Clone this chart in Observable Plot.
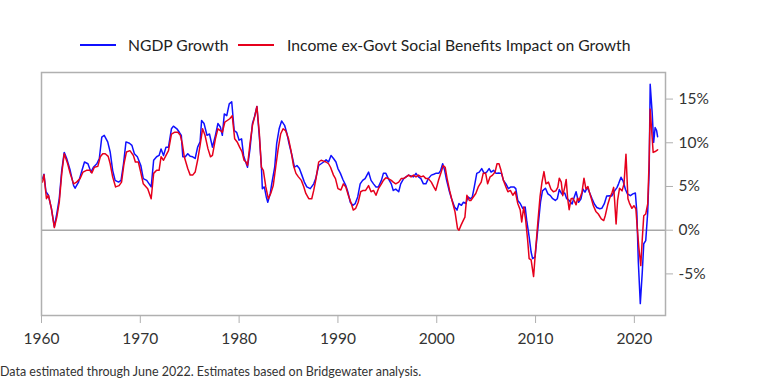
<!DOCTYPE html>
<html>
<head>
<meta charset="utf-8">
<script src="https://cdn.jsdelivr.net/npm/d3@7"></script>
<script src="https://cdn.jsdelivr.net/npm/@observablehq/plot@0.6"></script>
<style>
  html, body { margin: 0; padding: 0; background: #fff; }
  body { width: 771px; height: 381px; overflow: hidden; font-family: Lato, sans-serif; }
  #legend { position: relative; height: 62px; color: #222; font-size: 15.7px; }
  #legend .sw { position: absolute; top: 44px; width: 36px; height: 2px; }
  #legend .lb { position: absolute; top: 35px; line-height: 20px; white-space: nowrap; }
  #caption { height: 19px; line-height: 19px; font-size: 12.5px; color: #333; white-space: nowrap; }
</style>
</head>
<body>
<div id="legend">
  <div class="sw" style="left:80px;background:#1010ff"></div>
  <div class="lb" style="left:128px">NGDP Growth</div>
  <div class="sw" style="left:238px;background:#e6001c"></div>
  <div class="lb" style="left:287px">Income ex-Govt Social Benefits Impact on Growth</div>
</div>
<div id="chart"></div>
<div id="caption">Data estimated through June 2022. Estimates based on Bridgewater analysis.</div>
<script>
const seriesNames = ["NGDP Growth", "Income ex-Govt Social Benefits Impact on Growth"];
const xTicks = [1960, 1970, 1980, 1990, 2000, 2010, 2020];
const yTicks = [-5, 0, 5, 10, 15];

const ngdpYears = [1960.1,1960.25,1960.45,1960.7,1961.0,1961.3,1961.55,1961.8,1962.05,1962.3,1962.55,1962.9,1963.25,1963.4,1963.75,1964.1,1964.35,1964.7,1965.0,1965.25,1965.6,1965.85,1966.1,1966.35,1966.7,1966.95,1967.2,1967.45,1967.8,1968.05,1968.3,1968.55,1968.9,1969.15,1969.4,1969.7,1970.05,1970.3,1970.65,1971.1,1971.35,1971.65,1971.9,1972.1,1972.35,1972.6,1972.85,1973.15,1973.35,1973.7,1973.95,1974.15,1974.3,1974.55,1974.8,1975.05,1975.3,1975.55,1975.8,1976.05,1976.2,1976.45,1976.75,1977.0,1977.3,1977.6,1977.85,1978.1,1978.3,1978.5,1978.75,1979.0,1979.25,1979.5,1979.75,1980.0,1980.25,1980.45,1980.6,1980.85,1981.1,1981.35,1981.55,1981.8,1982.05,1982.25,1982.35,1982.55,1982.75,1982.9,1983.15,1983.3,1983.6,1983.8,1984.05,1984.3,1984.6,1984.85,1985.05,1985.35,1985.6,1985.85,1986.1,1986.35,1986.6,1986.85,1987.2,1987.55,1987.75,1988.05,1988.3,1988.55,1988.8,1989.05,1989.3,1989.55,1989.8,1990.0,1990.25,1990.5,1990.8,1991.0,1991.25,1991.5,1991.75,1992.0,1992.25,1992.5,1992.75,1993.1,1993.35,1993.6,1993.85,1994.1,1994.4,1994.6,1994.85,1995.1,1995.4,1995.6,1995.85,1996.15,1996.35,1996.65,1996.9,1997.15,1997.4,1997.65,1997.9,1998.15,1998.4,1998.65,1998.9,1999.15,1999.45,1999.7,1999.9,2000.2,2000.4,2000.6,2000.8,2001.0,2001.25,2001.5,2001.8,2002.05,2002.25,2002.5,2002.7,2002.95,2003.15,2003.4,2003.6,2003.8,2004.05,2004.3,2004.55,2004.8,2005.05,2005.3,2005.5,2005.75,2006.0,2006.25,2006.55,2006.75,2007.0,2007.25,2007.5,2007.8,2008.0,2008.2,2008.45,2008.7,2008.95,2009.1,2009.35,2009.55,2009.7,2009.95,2010.25,2010.5,2010.7,2011.0,2011.25,2011.5,2011.7,2012.0,2012.2,2012.4,2012.65,2012.95,2013.15,2013.4,2013.7,2013.9,2014.1,2014.35,2014.6,2014.8,2015.0,2015.25,2015.45,2015.7,2015.95,2016.2,2016.5,2016.7,2016.95,2017.2,2017.5,2017.7,2018.0,2018.25,2018.4,2018.65,2018.85,2019.1,2019.3,2019.6,2019.85,2020.1,2020.25,2020.4,2020.6,2020.8,2020.95,2021.15,2021.35,2021.5,2021.6,2021.8,2021.95,2022.1,2022.25,2022.35];
const ngdpValues = [5.9,6.4,4.4,4.0,2.5,0.4,1.9,3.65,6.85,8.9,8.2,6.85,5.1,4.8,5.5,6.85,7.8,7.6,6.65,7.2,7.6,8.2,10.65,10.85,10.1,8.95,6.85,5.7,5.5,5.7,7.6,10.1,9.95,9.7,8.75,8.4,7.4,5.9,5.7,4.95,8.0,8.4,8.55,9.3,8.55,9.5,9.5,11.6,11.9,11.6,11.2,10.85,8.4,8.4,8.75,8.45,8.4,8.2,9.5,10.1,12.55,12.2,10.85,11.0,9.5,10.85,12.2,11.8,10.85,13.3,13.1,14.45,14.7,11.4,11.2,10.3,10.45,8.55,8.0,7.2,9.3,12.2,12.95,14.15,10.65,7.4,4.75,4.95,3.8,3.2,4.2,5.3,7.2,9.9,11.6,12.5,12.0,11.0,9.9,8.55,7.2,7.4,7.05,6.3,5.5,4.95,4.75,5.3,5.9,7.4,7.6,7.8,8.05,7.8,8.55,8.2,7.8,7.05,6.5,5.8,5.1,4.4,3.2,2.85,3.05,3.8,5.3,5.7,5.9,6.65,5.7,5.3,4.95,4.95,5.7,6.5,6.5,5.9,5.3,4.55,4.7,4.4,5.3,5.9,6.1,6.3,6.2,6.1,6.5,6.1,5.9,5.3,5.3,5.9,6.3,6.4,6.5,6.5,6.85,7.6,6.85,5.7,4.55,3.6,2.65,2.3,3.05,2.85,3.2,3.05,3.8,3.6,3.8,4.95,6.5,6.65,7.05,6.5,6.65,7.05,6.65,6.85,6.5,6.55,6.5,5.7,5.3,4.75,4.95,4.95,4.75,3.4,3.05,2.5,2.65,1.15,-0.75,-2.5,-3.25,-3.05,0.4,3.2,4.5,4.8,4.15,3.95,3.65,3.4,3.6,4.65,4.15,4.25,3.6,3.4,3.0,3.75,4.4,3.2,3.6,4.7,4.35,4.9,4.35,3.65,3.0,2.6,2.45,2.5,3.0,3.9,3.95,3.9,4.5,4.9,5.3,6.05,5.65,4.65,4.15,3.95,4.15,4.25,2.05,-3.65,-8.4,-4.8,-1.55,-1.2,2.05,7.0,16.7,13.45,10.05,11.75,11.4,10.7];

const incomeYears = [1960.1,1960.25,1960.5,1960.7,1961.0,1961.3,1961.55,1961.8,1962.05,1962.3,1962.65,1962.9,1963.25,1963.55,1963.9,1964.2,1964.55,1964.9,1965.1,1965.35,1965.7,1965.95,1966.2,1966.45,1966.75,1966.95,1967.2,1967.5,1967.85,1968.1,1968.35,1968.6,1968.95,1969.3,1969.5,1969.8,1970.05,1970.3,1970.75,1971.1,1971.35,1971.65,1971.9,1972.1,1972.35,1972.6,1972.85,1973.15,1973.45,1973.8,1974.05,1974.25,1974.45,1974.8,1975.05,1975.3,1975.55,1975.8,1976.05,1976.3,1976.55,1976.85,1977.1,1977.3,1977.6,1977.85,1978.1,1978.3,1978.55,1978.8,1979.05,1979.3,1979.55,1979.8,1980.05,1980.3,1980.5,1980.7,1980.85,1981.1,1981.35,1981.6,1981.8,1982.05,1982.25,1982.45,1982.7,1982.95,1983.2,1983.45,1983.7,1983.95,1984.2,1984.45,1984.7,1985.0,1985.25,1985.5,1985.75,1986.0,1986.3,1986.55,1986.75,1987.05,1987.35,1987.55,1987.75,1988.05,1988.3,1988.55,1988.8,1989.05,1989.25,1989.55,1989.75,1990.0,1990.3,1990.55,1990.8,1991.05,1991.35,1991.55,1991.8,1992.05,1992.3,1992.55,1992.8,1993.1,1993.35,1993.6,1993.85,1994.1,1994.4,1994.6,1994.85,1995.1,1995.4,1995.6,1995.85,1996.15,1996.4,1996.65,1996.9,1997.15,1997.4,1997.65,1997.9,1998.15,1998.4,1998.65,1998.9,1999.15,1999.45,1999.7,1999.9,2000.2,2000.45,2000.65,2000.85,2001.05,2001.3,2001.55,2001.85,2002.1,2002.25,2002.45,2002.7,2002.85,2003.05,2003.3,2003.45,2003.7,2003.95,2004.2,2004.5,2004.7,2004.95,2005.15,2005.4,2005.65,2005.9,2006.1,2006.3,2006.5,2006.75,2007.0,2007.2,2007.45,2007.7,2007.95,2008.2,2008.45,2008.6,2008.8,2009.0,2009.2,2009.35,2009.55,2009.8,2010.0,2010.25,2010.45,2010.65,2010.85,2011.05,2011.3,2011.55,2011.8,2012.05,2012.25,2012.4,2012.6,2012.75,2012.95,2013.1,2013.25,2013.4,2013.6,2013.75,2013.95,2014.1,2014.25,2014.4,2014.7,2014.9,2015.1,2015.3,2015.45,2015.65,2015.85,2016.1,2016.35,2016.65,2016.9,2017.05,2017.3,2017.5,2017.75,2017.9,2018.0,2018.15,2018.3,2018.5,2018.75,2018.95,2019.15,2019.35,2019.5,2019.75,2019.95,2020.15,2020.3,2020.45,2020.65,2020.8,2020.95,2021.15,2021.35,2021.5,2021.6,2021.8,2021.9,2022.1,2022.35];
const incomeValues = [5.5,6.35,3.6,4.0,2.5,0.3,1.5,3.2,6.5,8.75,7.6,6.5,5.3,5.5,5.9,6.65,6.85,6.85,6.55,7.2,7.3,8.4,8.75,8.75,8.45,7.6,6.1,4.95,5.1,5.5,7.6,8.95,9.1,8.55,7.8,7.8,6.6,5.3,4.75,3.6,6.5,6.85,6.85,8.4,8.0,8.55,9.1,11.0,11.2,11.2,10.85,9.9,8.4,7.05,6.3,6.3,6.65,8.0,9.7,11.6,10.85,9.3,8.4,8.55,10.45,11.6,11.4,11.2,12.35,12.55,12.75,13.1,10.45,10.1,9.5,8.95,8.0,7.8,7.4,9.9,12.0,13.1,14.15,11.0,7.2,6.85,4.95,3.6,4.2,5.1,7.2,9.3,11.0,11.6,11.4,10.45,9.1,7.4,6.5,6.1,5.7,4.95,4.2,3.6,3.6,4.55,5.7,7.8,8.0,7.9,7.8,7.6,7.2,6.3,5.9,4.75,4.6,5.3,4.95,4.0,3.05,2.3,2.5,3.2,4.4,4.55,4.55,5.1,4.4,4.55,4.0,4.75,5.3,5.7,6.0,5.9,5.7,5.5,5.3,5.5,5.9,5.9,6.1,6.3,6.1,6.3,6.1,6.3,6.1,6.2,5.9,5.9,5.5,4.95,4.55,5.8,6.65,7.4,7.2,5.9,4.55,3.4,2.1,0.2,0.0,0.55,1.15,1.5,4.0,3.4,3.4,3.8,4.2,4.95,5.5,6.5,6.5,5.3,6.1,6.3,6.65,7.6,7.6,6.85,5.7,4.95,4.4,4.55,4.0,4.4,3.05,2.3,0.95,2.65,1.15,-1.15,-3.25,-3.4,-5.3,-2.3,1.15,3.8,5.5,6.7,5.3,5.5,4.7,4.4,4.5,4.9,5.95,5.5,3.95,4.9,5.8,3.6,2.35,3.6,3.65,3.3,2.9,3.65,3.4,4.35,5.95,4.7,5.0,4.35,3.6,2.8,2.15,1.85,1.3,1.1,1.65,2.9,3.65,4.35,4.9,3.4,0.7,3.4,4.8,4.5,5.3,8.7,3.6,3.1,2.5,2.8,2.45,0.15,-1.95,-4.05,-1.0,1.65,1.85,3.0,8.15,13.85,10.6,8.9,9.0,9.2];

const ngdp = ngdpYears.map((year, i) => ({year, value: ngdpValues[i], series: seriesNames[0]}));
const income = incomeYears.map((year, i) => ({year, value: incomeValues[i], series: seriesNames[1]}));

const chart = Plot.plot({
  width: 771,
  height: 300,
  marginTop: 10,
  marginBottom: 47,
  marginLeft: 41,
  marginRight: 106,
  style: {fontFamily: "Lato, sans-serif", fontSize: "15.5px", color: "#333", background: "transparent", overflow: "visible"},
  x: {domain: [1960, 2023.15]},
  y: {domain: [-9.76, 18.04]},
  marks: [
    Plot.ruleY([0], {stroke: "#a8a8a8", strokeWidth: 1.5}),
    Plot.line(ngdp, {x: "year", y: "value", stroke: "#1010ff", strokeWidth: 1.5}),
    Plot.line(income, {x: "year", y: "value", stroke: "#e6001c", strokeWidth: 1.5}),
    Plot.frame({stroke: "#b0b0b0", strokeWidth: 1.5}),
    Plot.axisX({ticks: xTicks, tickFormat: d => String(d), tickSize: 8, tickPadding: 9, stroke: "#b0b0b0", fill: "#333", label: null}),
    Plot.axisY({anchor: "right", ticks: yTicks, tickFormat: d => d + "%", tickSize: 7, tickPadding: 6, stroke: "#b0b0b0", fill: "#333", label: null})
  ]
});
document.getElementById("chart").appendChild(chart);
</script>
</body>
</html>
